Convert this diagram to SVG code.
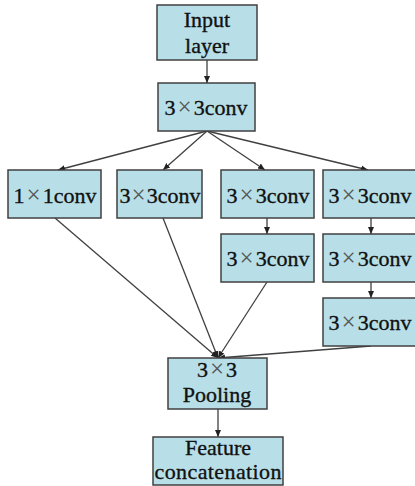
<svg xmlns="http://www.w3.org/2000/svg" width="415" height="486" viewBox="0 0 415 486">
<style>
.box{fill:#b8dfe8;stroke:#404040;stroke-width:1.5}
.t{font-family:"Liberation Serif","Times New Roman",serif;font-size:22px;fill:#111;stroke:#111;stroke-width:0.35;text-anchor:middle}
.x{fill:#555;stroke:none;font-size:25px}
.ln{stroke:#404040;stroke-width:1.3;fill:none}
</style>
<defs>
<marker id="ah" markerWidth="8" markerHeight="8" refX="7" refY="4" orient="auto" markerUnits="userSpaceOnUse">
<path d="M0,1 L7,4 L0,7 Z" fill="#222"/>
</marker>
</defs>
<g id="connectors">
<line class="ln" x1="207" y1="60" x2="207" y2="83" marker-end="url(#ah)"/>
<line class="ln" x1="207" y1="131" x2="58" y2="170" marker-end="url(#ah)"/>
<line class="ln" x1="207" y1="131" x2="163" y2="170" marker-end="url(#ah)"/>
<line class="ln" x1="207" y1="131" x2="265" y2="170" marker-end="url(#ah)"/>
<line class="ln" x1="207" y1="131" x2="368" y2="170" marker-end="url(#ah)"/>
<line class="ln" x1="267" y1="218" x2="267" y2="234" marker-end="url(#ah)"/>
<line class="ln" x1="371" y1="218" x2="371" y2="234" marker-end="url(#ah)"/>
<line class="ln" x1="371" y1="282" x2="371" y2="298" marker-end="url(#ah)"/>
<line class="ln" x1="55" y1="218" x2="218" y2="358" marker-end="url(#ah)"/>
<line class="ln" x1="163" y1="218" x2="218" y2="358" marker-end="url(#ah)"/>
<line class="ln" x1="267" y1="282" x2="218" y2="358" marker-end="url(#ah)"/>
<line class="ln" x1="371" y1="346" x2="218" y2="358" marker-end="url(#ah)"/>
<line class="ln" x1="218" y1="409" x2="218" y2="437" marker-end="url(#ah)"/>
</g>
<g id="input">
<rect class="box" x="157" y="5" width="100" height="55"/>
<text class="t" x="207" y="27">Input</text>
<text class="t" x="207" y="53">layer</text>
</g>
<g id="conv0">
<rect class="box" x="158" y="83" width="97" height="48"/>
<text class="t" x="206" y="115">3<tspan class="x" dx="2">×</tspan><tspan dx="2">3conv</tspan></text>
</g>
<g id="conv1x1">
<rect class="box" x="8" y="170" width="93" height="48"/>
<text class="t" x="55" y="203">1<tspan class="x" dx="2">×</tspan><tspan dx="2">1conv</tspan></text>
</g>
<g id="conv_b2">
<rect class="box" x="117" y="170" width="85" height="48"/>
<text class="t" x="160" y="203">3<tspan class="x" dx="1">×</tspan><tspan dx="1">3conv</tspan></text>
</g>
<g id="conv_b3a">
<rect class="box" x="221" y="170" width="93" height="48"/>
<text class="t" x="268" y="203">3<tspan class="x" dx="2">×</tspan><tspan dx="2">3conv</tspan></text>
</g>
<g id="conv_b3b">
<rect class="box" x="221" y="234" width="93" height="48"/>
<text class="t" x="268" y="266">3<tspan class="x" dx="2">×</tspan><tspan dx="2">3conv</tspan></text>
</g>
<g id="conv_b4a">
<rect class="box" x="323" y="170" width="95" height="48"/>
<text class="t" x="370" y="203">3<tspan class="x" dx="2">×</tspan><tspan dx="2">3conv</tspan></text>
</g>
<g id="conv_b4b">
<rect class="box" x="323" y="234" width="95" height="48"/>
<text class="t" x="370" y="266">3<tspan class="x" dx="2">×</tspan><tspan dx="2">3conv</tspan></text>
</g>
<g id="conv_b4c">
<rect class="box" x="323" y="298" width="95" height="48"/>
<text class="t" x="370" y="330">3<tspan class="x" dx="2">×</tspan><tspan dx="2">3conv</tspan></text>
</g>
<g id="pooling">
<rect class="box" x="168" y="358" width="99" height="51"/>
<text class="t" x="217" y="377">3<tspan class="x" dx="2">×</tspan><tspan dx="2">3</tspan></text>
<text class="t" x="217" y="402">Pooling</text>
</g>
<g id="feature">
<rect class="box" x="153" y="437" width="130" height="48"/>
<text class="t" x="218" y="455">Feature</text>
<text class="t" x="218" y="479" textLength="127" lengthAdjust="spacing">concatenation</text>
</g>
</svg>
